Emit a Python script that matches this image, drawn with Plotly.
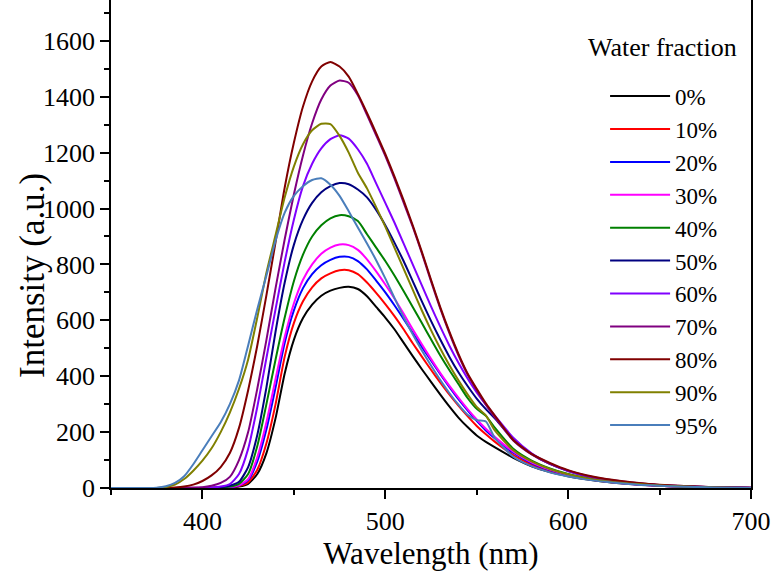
import plotly.graph_objects as go

wavelength = [350, 360, 370, 375, 380, 385, 390, 395, 400,
              405, 410, 415, 420, 425, 430, 435, 440, 445,
              450, 455, 460, 465, 470, 475, 480, 485, 490,
              495, 500, 505, 510, 515, 520, 525, 530, 535,
              540, 545, 550, 555, 560,
              570, 580, 590, 600, 610, 620, 630, 640, 650, 660,
              680, 700]

fractions = ["0%", "10%", "20%", "30%", "40%", "50%", "60%", "70%", "80%", "90%", "95%"]
colors = ["#000000", "#FF0000", "#0000FF", "#FF00FF", "#008000", "#000080",
          "#8000FF", "#800080", "#800000", "#808000", "#4A7EBB"]

I0 = [0, 0, 0, 0, 0, 0, 0, 0, 0,
      0, 1, 2, 5, 15, 50, 125, 250, 410,
      530, 608, 656, 688, 706, 716, 720, 712, 686,
      648, 610, 568, 520, 472, 425, 380, 335, 292,
      252, 218, 188, 165, 145,
      108, 78, 57, 42, 31, 22, 16, 11, 8, 5,
      2, 0]
I10 = [0, 0, 0, 0, 0, 0, 0, 0, 0,
       0, 1, 2, 7, 20, 65, 160, 300, 470,
       590, 668, 718, 750, 768, 779, 779, 765, 735,
       698, 658, 615, 568, 518, 470, 423, 378, 335,
       295, 257, 222, 192, 165,
       118, 84, 61, 44, 32, 23, 17, 12, 8, 5,
       2, 0]
I20 = [0, 0, 0, 0, 0, 0, 0, 0, 0,
       0, 1, 3, 9, 28, 95, 210, 360, 520,
       635, 715, 765, 797, 816, 827, 827, 812, 782,
       742, 700, 654, 605, 555, 505, 456, 408, 362,
       318, 278, 240, 206, 177,
       126, 89, 64, 46, 33, 24, 17, 12, 8, 6,
       2, 0]
I30 = [0, 0, 0, 0, 0, 0, 0, 0, 0,
       0, 1, 4, 10, 32, 110, 235, 390, 540,
       660, 745, 800, 838, 860, 871, 869, 852, 818,
       775, 728, 678, 624, 568, 514, 462, 412, 366,
       323, 282, 245, 212, 182,
       130, 92, 66, 47, 34, 24, 17, 12, 8, 6,
       2, 0]
I40 = [0, 0, 0, 0, 0, 0, 0, 0, 0,
       1, 2, 5, 15, 50, 150, 300, 460, 610,
       740, 835, 900, 940, 965, 976, 972, 955, 908,
       860, 812, 760, 705, 648, 590, 532, 475, 422,
       372, 322, 283, 258, 215,
       140, 98, 70, 50, 36, 26, 18, 13, 9, 6,
       2, 0]
I50 = [0, 0, 0, 0, 0, 0, 0, 0, 0,
       1, 3, 8, 22, 75, 190, 360, 560, 735,
       870, 960, 1020, 1058, 1080, 1091, 1087, 1068, 1040,
       995, 940, 878, 812, 740, 668, 598, 532, 470,
       414, 365, 320, 282, 248,
       175, 122, 86, 61, 43, 30, 21, 15, 10, 7,
       3, 1]
I60 = [0, 0, 0, 0, 0, 0, 0, 0, 1,
       2, 5, 14, 50, 140, 290, 465, 640, 810,
       960, 1080, 1160, 1215, 1248, 1262, 1250, 1212, 1160,
       1090, 1020, 950, 875, 800, 725, 650, 578, 510,
       448, 392, 342, 298, 258,
       180, 124, 87, 61, 43, 30, 21, 15, 10, 7,
       3, 1]
I70 = [0, 0, 0, 0, 0, 0, 1, 2, 3,
       8, 18, 40, 100, 200, 355, 530, 715, 890,
       1050, 1190, 1305, 1390, 1440, 1458, 1450, 1405, 1335,
       1262, 1188, 1108, 1022, 935, 840, 740, 643, 555,
       475, 406, 350, 298, 252,
       170, 120, 86, 62, 44, 32, 23, 16, 11, 8,
       3, 1]
I80 = [0, 0, 0, 0, 1, 2, 5, 12, 25,
       45, 75, 125, 215, 350, 510, 690, 880, 1075,
       1235, 1365, 1455, 1508, 1524, 1508, 1472, 1410, 1342,
       1270, 1195, 1115, 1030, 940, 845, 745, 648, 560,
       480, 410, 355, 303, 258,
       172, 122, 90, 64, 46, 33, 24, 17, 12, 8,
       3, 1]
I90 = [0, 0, 0, 0, 3, 12, 32, 62, 98,
       142, 200, 270, 355, 460, 610, 770, 905, 1040,
       1150, 1230, 1280, 1303, 1302, 1260, 1200, 1128, 1072,
       1005, 935, 860, 785, 710, 635, 565, 500, 440,
       385, 335, 290, 260, 205,
       135, 95, 68, 49, 35, 25, 18, 13, 9, 6,
       2, 0]
I95 = [0, 0, 0, 1, 6, 18, 42, 85, 135,
       185, 235, 300, 385, 510, 640, 760, 885, 985,
       1045, 1080, 1102, 1108, 1085, 1045, 990, 932, 875,
       815, 750, 680, 612, 550, 492, 438, 387, 340,
       298, 262, 243, 238, 178,
       112, 78, 56, 41, 30, 22, 16, 11, 8, 5,
       2, 0]

series = [I0, I10, I20, I30, I40, I50, I60, I70, I80, I90, I95]

FONT = "Liberation Serif, Times New Roman, serif"

fig = go.Figure()
for name, vals, col in zip(fractions, series, colors):
    fig.add_trace(go.Scatter(
        x=wavelength, y=vals, mode="lines", name=name,
        line=dict(color=col, width=2, shape="spline", smoothing=0.6),
    ))

axis_common = dict(
    showline=True, linecolor="black", linewidth=1.5,
    ticks="outside", ticklen=9, tickwidth=1.5, tickcolor="black",
    showgrid=False, zeroline=False,
    tickfont=dict(family=FONT, size=26, color="black"),
)

fig.update_layout(
    width=774, height=572,
    margin=dict(l=111, r=23, t=0, b=84),
    paper_bgcolor="white", plot_bgcolor="white",
    font=dict(family=FONT, color="black"),
    xaxis=dict(
        range=[350, 700], dtick=100, tick0=0,
        minor=dict(dtick=50, ticks="outside", ticklen=5, tickwidth=1.5, tickcolor="black"),
        title=dict(text="Wavelength (nm)", font=dict(family=FONT, size=31, color="black"), standoff=6),
        **axis_common,
    ),
    yaxis=dict(
        range=[0, 1746], dtick=200, tick0=0, mirror=True,
        minor=dict(dtick=100, ticks="outside", ticklen=5, tickwidth=1.5, tickcolor="black"),
        **axis_common,
    ),
    legend=dict(
        x=0.772, y=0.847, xanchor="left", yanchor="top",
        font=dict(family=FONT, size=23, color="black"),
        itemwidth=60, bgcolor="rgba(0,0,0,0)", borderwidth=0,
        tracegroupgap=0,
    ),
    annotations=[
        dict(
            text="Water fraction", x=0.861, y=0.902, xref="paper", yref="paper",
            xanchor="center", yanchor="middle", showarrow=False,
            font=dict(family=FONT, size=26, color="black"),
        ),
        dict(
            text="Intensity (a.u.)", x=-0.1219, y=0.4365, xref="paper", yref="paper",
            xanchor="center", yanchor="middle", showarrow=False, textangle=-90,
            font=dict(family=FONT, size=35, color="black"),
        ),
    ],
)

fig.write_html("out.html")
